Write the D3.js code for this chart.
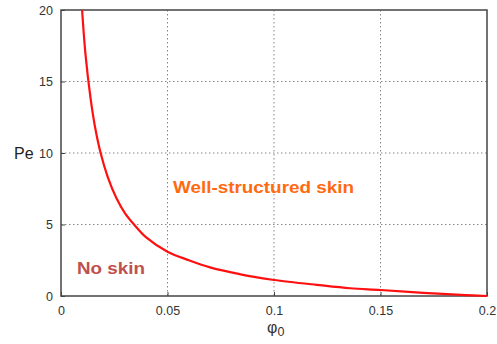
<!DOCTYPE html>
<html>
<head>
<meta charset="utf-8">
<script src="https://cdn.jsdelivr.net/npm/d3@7"></script>
<style>
  body { margin: 0; background: #fff; }
  svg { display: block; font-family: Arial, "Liberation Sans", sans-serif; }
</style>
</head>
<body>
<svg id="chart" width="497" height="344"></svg>
<script>
// phi_0 vs Pe boundary curve
const phi = [0.0099, 0.0115, 0.0139, 0.016, 0.0186, 0.022, 0.026, 0.03, 0.0343, 0.04,
  0.05, 0.06, 0.07, 0.08, 0.09, 0.1, 0.12, 0.1357, 0.15, 0.17, 0.19, 0.2]
const pe = [20, 16.9, 13.8, 11.8, 10, 8.3, 6.85, 5.8, 5, 4.1,
  3.1, 2.5, 2.0, 1.65, 1.35, 1.12, 0.78, 0.54, 0.42, 0.22, 0.06, 0]

const xTicks = [0, 0.05, 0.1, 0.15, 0.2]
const yTicks = [0, 5, 10, 15, 20]

const margin = { left: 61, top: 10, right: 10, bottom: 48 }
const width = 497 - margin.left - margin.right
const height = 344 - margin.top - margin.bottom

const svg = d3.select('#chart')
const g = svg.append('g').attr('transform', `translate(${margin.left},${margin.top})`)

const x = d3.scaleLinear().domain([0, 0.2]).range([0, width])
const y = d3.scaleLinear().domain([0, 20]).range([height, 0])

// dotted grid
g.append('g')
  .selectAll('line')
  .data(xTicks.slice(1, -1))
  .join('line')
  .attr('x1', d => x(d)).attr('x2', d => x(d))
  .attr('y1', 0).attr('y2', height)
  .attr('stroke', '#888').attr('stroke-width', 1).attr('stroke-dasharray', '1.5,2.5')

g.append('g')
  .selectAll('line')
  .data(yTicks.slice(1, -1))
  .join('line')
  .attr('x1', 0).attr('x2', width)
  .attr('y1', d => y(d)).attr('y2', d => y(d))
  .attr('stroke', '#888').attr('stroke-width', 1).attr('stroke-dasharray', '1.5,2.5')

// axes with inward ticks
const xAxis = g.append('g')
  .attr('transform', `translate(0,${height})`)
  .call(d3.axisBottom(x).tickValues(xTicks).tickSizeInner(-4).tickSizeOuter(0).tickPadding(10)
    .tickFormat(d => d === 0 ? '0' : String(+d.toFixed(2))))
const yAxis = g.append('g')
  .call(d3.axisLeft(y).tickValues(yTicks).tickSizeInner(-4).tickSizeOuter(0).tickPadding(8))

for (const a of [xAxis, yAxis]) {
  a.select('.domain').remove()
  a.selectAll('.tick line').attr('stroke', '#444')
  a.selectAll('.tick text').attr('fill', '#333').style('font-size', '12.5px')
}

// frame
g.append('rect')
  .attr('width', width).attr('height', height)
  .attr('fill', 'none').attr('stroke', '#444').attr('stroke-width', 1.5)

// curve
const pts = phi.map((p, i) => [p, pe[i]])
g.append('path')
  .datum(pts)
  .attr('fill', 'none')
  .attr('stroke', '#ff1010')
  .attr('stroke-width', 2.2)
  .attr('d', d3.line().x(d => x(d[0])).y(d => y(d[1])).curve(d3.curveCatmullRom.alpha(0.5)))

// labels
svg.append('text')
  .attr('x', 14).attr('y', 159)
  .attr('fill', '#222').style('font-size', '16px')
  .text('Pe')

const xl = svg.append('text')
  .attr('x', 267).attr('y', 333)
  .attr('fill', '#333').style('font-size', '16px')
xl.append('tspan').text('φ')
xl.append('tspan').attr('dy', 3).style('font-size', '12.5px').text('0')

svg.append('text')
  .attr('x', 173).attr('y', 193)
  .attr('textLength', 181).attr('lengthAdjust', 'spacingAndGlyphs')
  .attr('fill', '#ff6a10').style('font-size', '17px').style('font-weight', 'bold')
  .text('Well-structured skin')

svg.append('text')
  .attr('x', 77).attr('y', 274)
  .attr('textLength', 68).attr('lengthAdjust', 'spacingAndGlyphs')
  .attr('fill', '#c0504d').style('font-size', '17px').style('font-weight', 'bold')
  .text('No skin')
</script>
</body>
</html>
